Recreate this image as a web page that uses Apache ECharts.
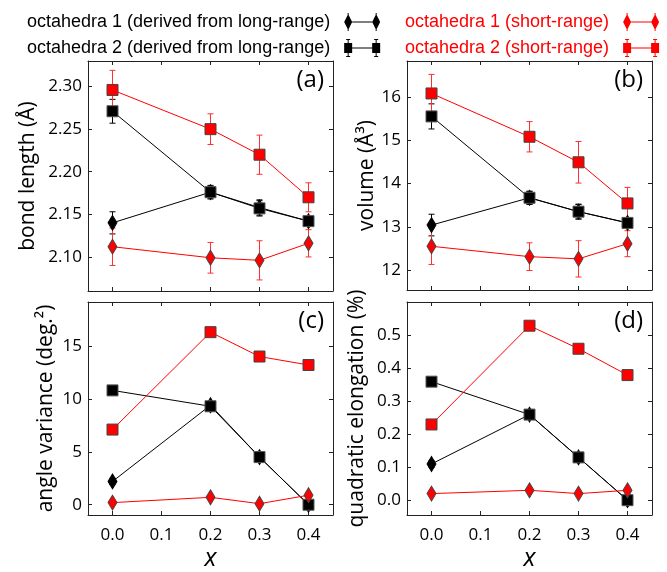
<!DOCTYPE html>
<html>
  <head>
    <meta charset="utf-8" />
    <title>Octahedra distortion</title>
    <script src="https://cdn.jsdelivr.net/npm/echarts@6/dist/echarts.min.js"></script>
    <style>
      html, body { margin: 0; padding: 0; background: #fff; }
    </style>
  </head>
  <body>
    <div id="main" style="width: 667px;height:572px;"></div>
    <script type="text/javascript">
      // composition x
      const xs = [0.0, 0.2, 0.3, 0.4];

      // (a) bond length
      const bondOct1Long = [2.140, 2.176, 2.158, 2.142];
      const bondOct1LongErr = [0.013, 0.007, 0.009, 0.005];
      const bondOct2Long = [2.271, 2.176, 2.157, 2.142];
      const bondOct2LongErr = [0.014, 0.008, 0.009, 0.005];
      const bondOct1Short = [2.112, 2.099, 2.096, 2.116];
      const bondOct1ShortErr = [0.022, 0.018, 0.023, 0.016];
      const bondOct2Short = [2.296, 2.250, 2.220, 2.170];
      const bondOct2ShortErr = [0.023, 0.018, 0.023, 0.017];

      // (b) volume
      const volOct1Long = [13.04, 13.67, 13.35, 13.09];
      const volOct1LongErr = [0.25, 0.15, 0.17, 0.10];
      const volOct2Long = [15.55, 13.67, 13.35, 13.09];
      const volOct2LongErr = [0.29, 0.15, 0.17, 0.10];
      const volOct1Short = [12.55, 12.31, 12.26, 12.61];
      const volOct1ShortErr = [0.42, 0.32, 0.42, 0.30];
      const volOct2Short = [16.08, 15.08, 14.49, 13.54];
      const volOct2ShortErr = [0.44, 0.35, 0.48, 0.37];

      // (c) angle variance
      const angOct1Long = [2.2, 9.4, 4.5, 0.0];
      const angOct1LongErr = [0.3, 0.3, 0.3, 0.3];
      const angOct2Long = [10.8, 9.3, 4.5, 0.0];
      const angOct2LongErr = [0.0, 0.3, 0.3, 0.3];
      const angOct1Short = [0.2, 0.7, 0.1, 0.9];
      const angOct2Short = [7.1, 16.3, 14.0, 13.2];

      // (d) quadratic elongation
      const qeOct1Long = [0.11, 0.26, 0.13, 0.0];
      const qeOct1LongErr = [0.01, 0.01, 0.01, 0.01];
      const qeOct2Long = [0.36, 0.26, 0.13, 0.0];
      const qeOct2LongErr = [0.0, 0.01, 0.01, 0.01];
      const qeOct1Short = [0.02, 0.03, 0.02, 0.03];
      const qeOct2Short = [0.23, 0.53, 0.46, 0.38];

      // tick labels
      const xTicks = [0.0, 0.1, 0.2, 0.3, 0.4];
      const bondTicks = [2.10, 2.15, 2.20, 2.25, 2.30];
      const volTicks = [12, 13, 14, 15, 16];
      const angTicks = [0, 5, 10, 15];
      const qeTicks = [0.0, 0.1, 0.2, 0.3, 0.4, 0.5];

      const names = [
        'octahedra 1 (derived from long-range)',
        'octahedra 2 (derived from long-range)',
        'octahedra 1 (short-range)',
        'octahedra 2 (short-range)'
      ];

      var chartDom = document.getElementById('main');
      var myChart = echarts.init(chartDom);

      const RED = '#ff0000';
      const BLACK = '#000000';
      const FONT = 'Open Sans';

      const panels = [
        { grid: { left: 88, top: 61, width: 245, height: 230 }, min: 2.06, max: 2.33, ticks: bondTicks, dec: 2,
          name: 'bond length (Å)', gap: 49, label: '(a)',
          vals: [bondOct1Long, bondOct2Long, bondOct1Short, bondOct2Short],
          errs: [bondOct1LongErr, bondOct2LongErr, bondOct1ShortErr, bondOct2ShortErr] },
        { grid: { left: 407, top: 61, width: 245, height: 229 }, min: 11.54, max: 16.83, ticks: volTicks, dec: 0,
          name: 'volume (Å³)', gap: 24, label: '(b)',
          vals: [volOct1Long, volOct2Long, volOct1Short, volOct2Short],
          errs: [volOct1LongErr, volOct2LongErr, volOct1ShortErr, volOct2ShortErr] },
        { grid: { left: 88, top: 302, width: 245, height: 228 }, min: -0.97, max: 19.15, ticks: angTicks, dec: 0,
          name: 'angle variance (deg.²)', gap: 31, label: '(c)',
          vals: [angOct1Long, angOct2Long, angOct1Short, angOct2Short],
          errs: [angOct1LongErr, angOct2LongErr, null, null] },
        { grid: { left: 407, top: 302, width: 245, height: 228 }, min: -0.045, max: 0.602, ticks: qeTicks, dec: 1,
          name: 'quadratic elongation (%)', gap: 39, label: '(d)',
          vals: [qeOct1Long, qeOct2Long, qeOct1Short, qeOct2Short],
          errs: [qeOct1LongErr, qeOct2LongErr, null, null] }
      ];

      // look of the four data sets
      const looks = [
        { color: BLACK, symbol: 'diamond', size: [9, 15], border: '#000' },
        { color: BLACK, symbol: 'rect', size: 11, border: '#555' },
        { color: RED, symbol: 'diamond', size: [9, 15], border: '#444' },
        { color: RED, symbol: 'rect', size: 11, border: '#444' }
      ];

      function renderErr(params, api) {
        var x = api.value(0);
        var lo = api.coord([x, api.value(1)]);
        var hi = api.coord([x, api.value(2)]);
        var w = 3;
        var style = { stroke: api.visual('color'), lineWidth: 1 };
        return {
          type: 'group',
          children: [
            { type: 'line', shape: { x1: lo[0], y1: lo[1], x2: hi[0], y2: hi[1] }, style: style },
            { type: 'line', shape: { x1: lo[0] - w, y1: lo[1], x2: lo[0] + w, y2: lo[1] }, style: style },
            { type: 'line', shape: { x1: hi[0] - w, y1: hi[1], x2: hi[0] + w, y2: hi[1] }, style: style }
          ]
        };
      }

      const axisLine = { show: true, onZero: false, lineStyle: { color: '#222', width: 1 } };
      const tickStyle = { lineStyle: { color: '#222', width: 1 } };

      var grid = [], xAxis = [], yAxis = [], series = [], graphic = [];

      panels.forEach(function (p, i) {
        grid.push(p.grid);
        const bottomRow = i >= 2;
        // bottom x axis
        xAxis.push({
          type: 'value', gridIndex: i, position: 'bottom', min: -0.05, max: 0.45,
          axisLine: axisLine,
          axisTick: Object.assign({ show: true, inside: true, length: 4, customValues: xTicks }, tickStyle),
          axisLabel: { show: bottomRow, customValues: xTicks, margin: 12, color: '#000',
            fontFamily: FONT, fontSize: 17, formatter: function (v) { return v.toFixed(1); } },
          splitLine: { show: false },
          name: bottomRow ? 'x' : '', nameLocation: 'middle', nameGap: 31,
          nameTextStyle: { fontFamily: FONT, fontSize: 25, fontStyle: 'italic', color: '#000' }
        });
        // top x axis (frame + ticks)
        xAxis.push({
          type: 'value', gridIndex: i, position: 'top', min: -0.05, max: 0.45,
          axisLine: axisLine,
          axisTick: Object.assign({ show: true, inside: true, length: 4, customValues: xTicks }, tickStyle),
          axisLabel: { show: false }, splitLine: { show: false }
        });
        // left y axis
        yAxis.push({
          type: 'value', gridIndex: i, position: 'left', min: p.min, max: p.max,
          axisLine: axisLine,
          axisTick: Object.assign({ show: true, inside: true, length: 4, customValues: p.ticks }, tickStyle),
          axisLabel: { customValues: p.ticks, margin: 6, color: '#000', fontFamily: FONT, fontSize: 17,
            formatter: (function (d) { return function (v) { return v.toFixed(d); }; })(p.dec) },
          splitLine: { show: false },
          name: p.name, nameLocation: 'middle', nameGap: p.gap,
          nameTextStyle: { fontFamily: FONT, fontSize: 21, color: '#000' }
        });
        // right y axis (frame + ticks)
        yAxis.push({
          type: 'value', gridIndex: i, position: 'right', min: p.min, max: p.max,
          axisLine: axisLine,
          axisTick: Object.assign({ show: true, inside: true, length: 4, customValues: p.ticks }, tickStyle),
          axisLabel: { show: false }, splitLine: { show: false }
        });

        // error bars first, then lines with markers
        p.errs.forEach(function (e, k) {
          if (!e) return;
          var d = [];
          xs.forEach(function (x, j) {
            if (e[j] > 0) d.push([x, p.vals[k][j] - e[j], p.vals[k][j] + e[j]]);
          });
          series.push({
            type: 'custom', name: 'err' + i + k, xAxisIndex: 2 * i, yAxisIndex: 2 * i,
            renderItem: renderErr, itemStyle: { color: looks[k].color === RED ? '#ff3030' : '#000' },
            encode: { x: 0, y: [1, 2] }, data: d, z: 2, silent: true
          });
        });
        p.vals.forEach(function (v, k) {
          var lk = looks[k];
          series.push({
            type: 'line', name: names[k], xAxisIndex: 2 * i, yAxisIndex: 2 * i,
            data: xs.map(function (x, j) { return [x, v[j]]; }),
            symbol: lk.symbol, symbolSize: lk.size, showAllSymbol: true,
            lineStyle: { color: lk.color, width: 1 },
            itemStyle: { color: lk.color, borderColor: lk.border, borderWidth: 1 },
            z: 3 + k
          });
        });

        graphic.push({
          type: 'text',
          right: 667 - (p.grid.left + p.grid.width) + 9,
          top: p.grid.top + 7,
          style: { text: p.label, font: '24px "' + FONT + '"', fill: '#000' }
        });
      });

      // legend icons: marker - line - marker with error caps
      const diamondIcon = 'path://M1 9L5 1L9 9L5 17Z M29 9L33 1L37 9L33 17Z M9 8.4L29 8.4L29 9.6L9 9.6Z ' +
        'M4.5 0L5.5 0L5.5 18L4.5 18Z M32.5 0L33.5 0L33.5 18L32.5 18Z';
      const squareIcon = 'path://M1 4L9 4L9 14L1 14Z M29 4L37 4L37 14L29 14Z M9 8.4L29 8.4L29 9.6L9 9.6Z ' +
        'M4.5 0L5.5 0L5.5 18L4.5 18Z M32.5 0L33.5 0L33.5 18L32.5 18Z ' +
        'M3 0L7 0L7 1L3 1Z M31 0L35 0L35 1L31 1Z M3 17L7 17L7 18L3 18Z M31 17L35 17L35 18L31 18Z';

      const legendCommon = {
        orient: 'vertical', align: 'right', itemWidth: 38, itemHeight: 18, itemGap: 8,
        textStyle: { fontFamily: 'Liberation Sans', fontSize: 18, padding: [0, 8, 0, 0] },
        itemStyle: { borderWidth: 0 }
      };

      option = {
        animation: false,
        backgroundColor: '#fff',
        legend: [
          Object.assign({}, legendCommon, {
            left: 22, top: 8,
            data: [
              { name: names[0], icon: diamondIcon, textStyle: { color: BLACK } },
              { name: names[1], icon: squareIcon, textStyle: { color: BLACK } }
            ]
          }),
          Object.assign({}, legendCommon, {
            left: 400, top: 8,
            data: [
              { name: names[2], icon: diamondIcon, textStyle: { color: RED } },
              { name: names[3], icon: squareIcon, textStyle: { color: RED } }
            ]
          })
        ],
        grid: grid,
        xAxis: xAxis,
        yAxis: yAxis,
        series: series,
        graphic: graphic
      };

      option && myChart.setOption(option);
    </script>
  </body>
</html>
